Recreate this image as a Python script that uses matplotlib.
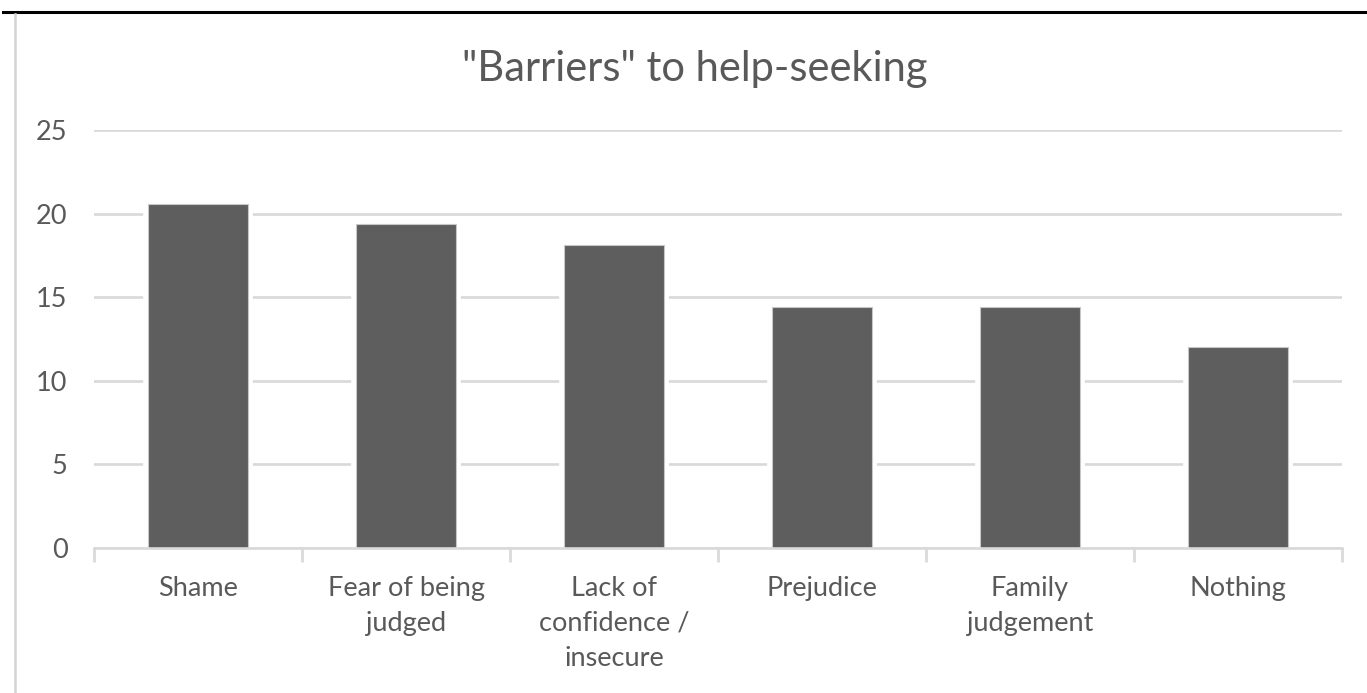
import numpy as np
import matplotlib.pyplot as plt
from matplotlib.lines import Line2D

# barriers to help-seeking, share of answers
categories = ["Shame", "Fear of being\njudged", "Lack of\nconfidence /\ninsecure",
              "Prejudice", "Family\njudgement", "Nothing"]
values = [20.6, 19.35, 18.15, 14.4, 14.4, 12.05]
yticks = [0, 5, 10, 15, 20, 25]

txt = '#595959'
grid = '#d9d9d9'
plt.rcParams['font.family'] = ['Lato', 'DejaVu Sans']

W, H = 1367, 693
fig = plt.figure(figsize=(W/100, H/100), dpi=100)
ax = fig.add_axes([94/W, 1 - 548/H, 1248/W, 418/H])

x = np.arange(len(categories))
# white halo around the bars cuts the gridlines
ax.bar(x, values, width=0.476, color='white', edgecolor='white', linewidth=7, zorder=2)
ax.bar(x, values, width=0.476, color='#5e5e5e', edgecolor='#c8c8c8', linewidth=0.8, zorder=3)

ax.set_xlim(-0.5, len(categories) - 0.5)
ax.set_ylim(0, 25)
ax.set_yticks(yticks)
ax.yaxis.grid(True, color=grid, linewidth=1.9, zorder=1)
ax.set_axisbelow(True)
for s in ['top', 'right', 'left']:
    ax.spines[s].set_visible(False)
ax.spines['bottom'].set_color(grid)
ax.spines['bottom'].set_linewidth(1.9)
ax.spines['bottom'].set_zorder(4)

ax.tick_params(axis='y', length=0, pad=19, labelsize=19.5, labelcolor=txt)
ax.set_xticks(x)
ax.set_xticklabels(categories, fontsize=19.5, color=txt, linespacing=1.5, va='top')
ax.tick_params(axis='x', length=0, pad=20)
# category separators below the axis
ax.set_xticks(np.arange(len(categories) + 1) - 0.5, minor=True)
ax.tick_params(axis='x', which='minor', length=10, width=1.9, color=grid, direction='out')

fig.text(695/W, 1 - 69/H, '"Barriers" to help-seeking', ha='center', va='center',
         fontsize=30, color=txt)

# frame lines at the top and left edge
fig.add_artist(Line2D([3/W, 1], [1 - 12/H, 1 - 12/H], color='black', linewidth=2.2))
fig.add_artist(Line2D([15/W, 15/W], [0, 1 - 14/H], color='#d4d4d4', linewidth=1.8))

fig.savefig('out.png', dpi=100)
